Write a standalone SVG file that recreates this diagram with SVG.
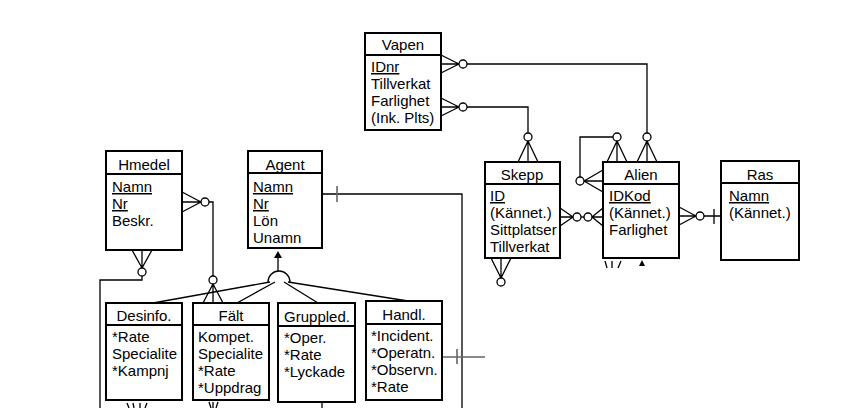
<svg xmlns="http://www.w3.org/2000/svg" width="845" height="408" viewBox="0 0 845 408">
<style>
text{font-family:"Liberation Sans",Arial,sans-serif;font-size:15px;fill:#000}
.h{text-anchor:middle}
.u{text-decoration:underline}
.box{fill:#fff;stroke:#000;stroke-width:2}
.sep{stroke:#000;stroke-width:2}
.c{fill:none;stroke:#000;stroke-width:1.3}
.g{fill:none;stroke:#666;stroke-width:1.6}
.o{fill:#fff;stroke:#000;stroke-width:1.3}
</style>
<rect width="845" height="408" fill="#fff"/>
<g id="connectors">
<!-- Vapen - Alien -->
<path class="c" d="M441,55 L459,64 M441,64 L459,64 M441,73 L459,64"/>
<circle class="o" cx="463" cy="64" r="4"/>
<path class="c" d="M467,64 H647 V133"/>
<circle class="o" cx="647" cy="137" r="4"/>
<path class="c" d="M647,141 L637,162 M647,141 L647,162 M647,141 L657,162"/>
<!-- Vapen - Skepp -->
<path class="c" d="M441,98 L459,107 M441,107 L459,107 M441,116 L459,107"/>
<circle class="o" cx="463" cy="107" r="4"/>
<path class="c" d="M467,107 H528 V133"/>
<circle class="o" cx="528" cy="137" r="4"/>
<path class="c" d="M528,141 L518,162 M528,141 L528,162 M528,141 L538,162"/>
<!-- Alien recursive -->
<circle class="o" cx="617" cy="137" r="4"/>
<path class="c" d="M617,141 L607,162 M617,141 L617,162 M617,141 L627,162"/>
<path class="c" d="M613,137 H580 V177"/>
<circle class="o" cx="580" cy="181" r="4"/>
<path class="c" d="M584,181 L603,170 M584,181 L603,181 M584,181 L603,192"/>
<!-- Skepp - Alien -->
<path class="c" d="M560,208 L573,217 M560,217 L573,217 M560,226 L573,217"/>
<circle class="o" cx="577" cy="217" r="4"/>
<path class="c" d="M581,217 H584"/>
<circle class="o" cx="588" cy="217" r="4"/>
<path class="c" d="M592,217 L603,208 M592,217 L603,217 M592,217 L603,226"/>
<!-- Alien - Ras -->
<path class="c" d="M679,207 L696,216 M679,216 L696,216 M679,225 L696,216"/>
<circle class="o" cx="700" cy="216" r="4"/>
<path class="c" d="M704,216 H721 M714,209 V224"/>
<!-- Skepp bottom -->
<path class="c" d="M491,258 L501,278 M501,258 L501,278 M511,258 L501,278"/>
<circle class="o" cx="501" cy="282" r="4"/>
<!-- Alien bottom marks -->
<path class="c" d="M605,261 L607,268 M612,261 L612,268 M621,261 L618,268"/>
<polygon points="642,260 639,266 645,266" fill="#000"/>
<!-- Hmedel - Falt -->
<path class="c" d="M182,192 L201,202 M182,202 L201,202 M182,212 L201,202"/>
<circle class="o" cx="205" cy="202" r="4"/>
<path class="c" d="M209,202 H213 V276"/>
<circle class="o" cx="213" cy="280" r="4"/>
<path class="c" d="M213,284 L203,303 M213,284 L213,303 M213,284 L223,303"/>
<!-- Hmedel bottom -->
<path class="c" d="M132,250 L142,268 M142,250 L142,268 M152,250 L142,268"/>
<circle class="o" cx="142" cy="272" r="4"/>
<path class="c" d="M142,276 V280 H100 V408"/>
<!-- Agent ISA -->
<polygon points="278,251 274,258 282,258" fill="#000"/>
<path class="c" d="M278,258 V271"/>
<path class="c" d="M268,282 A11,11 0 0 1 290,282"/>
<path class="c" d="M270,282 L153,303 M275,282 L237,303 M284,282 L318,303 M288,282 L408,301"/>
<!-- Agent right -->
<path class="c" d="M322,194 H462 V408"/>
<path class="g" d="M337,186 V202"/>
<!-- Handl right -->
<path class="g" d="M442,357 H485 M457,349 V364"/>
<!-- bottom marks -->
<path class="c" d="M127,403 L129,408 M133,403 L134,408 M140,403 L140,408 M147,403 L145,408"/>
<path class="c" d="M209,402 L211,408 M213,402 L213,408 M218,402 L216,408"/>
<path class="c" d="M322,403 V408"/>
</g>
<g id="Vapen">
<rect class="box" x="365" y="33" width="76" height="97"/>
<line class="sep" x1="365" y1="55" x2="441" y2="55"/>
<text class="h" x="403" y="50">Vapen</text>
<text class="u" x="371" y="72">IDnr</text>
<text x="371" y="89">Tillverkat</text>
<text x="371" y="106">Farlighet</text>
<text x="371" y="123">(Ink. Plts)</text>
</g>
<g id="Hmedel">
<rect class="box" x="106" y="151" width="76" height="99"/>
<line class="sep" x1="106" y1="174" x2="182" y2="174"/>
<text class="h" x="144" y="170">Hmedel</text>
<text class="u" x="112" y="192">Namn</text>
<text class="u" x="112" y="209">Nr</text>
<text x="112" y="226">Beskr.</text>
</g>
<g id="Agent">
<rect class="box" x="248" y="151" width="74" height="97"/>
<line class="sep" x1="248" y1="173" x2="322" y2="173"/>
<text class="h" x="285" y="170">Agent</text>
<text class="u" x="253" y="192">Namn</text>
<text class="u" x="253" y="209">Nr</text>
<text x="253" y="226">Lön</text>
<text x="253" y="243">Unamn</text>
</g>
<g id="Skepp">
<rect class="box" x="485" y="162" width="75" height="96"/>
<line class="sep" x1="485" y1="184" x2="560" y2="184"/>
<text class="h" x="522" y="180">Skepp</text>
<text class="u" x="490" y="201">ID</text>
<text x="490" y="218">(Kännet.)</text>
<text x="490" y="235">Sittplatser</text>
<text x="490" y="252">Tillverkat</text>
</g>
<g id="Alien">
<rect class="box" x="603" y="162" width="76" height="96"/>
<line class="sep" x1="603" y1="184" x2="679" y2="184"/>
<text class="h" x="641" y="180">Alien</text>
<text class="u" x="609" y="201">IDKod</text>
<text x="609" y="218">(Kännet.)</text>
<text x="609" y="235">Farlighet</text>
</g>
<g id="Ras">
<rect class="box" x="721" y="161" width="78" height="99"/>
<line class="sep" x1="721" y1="183" x2="799" y2="183"/>
<text class="h" x="760" y="180">Ras</text>
<text class="u" x="729" y="201">Namn</text>
<text x="729" y="218">(Kännet.)</text>
</g>
<g id="Desinfo">
<rect class="box" x="106" y="303" width="76" height="97"/>
<line class="sep" x1="106" y1="325" x2="182" y2="325"/>
<text class="h" x="144" y="321">Desinfo.</text>
<text x="112" y="342">*Rate</text>
<text x="112" y="359">Specialite</text>
<text x="112" y="376">*Kampnj</text>
</g>
<g id="Falt">
<rect class="box" x="193" y="303" width="76" height="97"/>
<line class="sep" x1="193" y1="325" x2="269" y2="325"/>
<text class="h" x="231" y="321">Fält</text>
<text x="198" y="342">Kompet.</text>
<text x="198" y="359">Specialite</text>
<text x="198" y="376">*Rate</text>
<text x="198" y="393">*Uppdrag</text>
</g>
<g id="Gruppled">
<rect class="box" x="278" y="303" width="77" height="99"/>
<line class="sep" x1="278" y1="326" x2="355" y2="326"/>
<text class="h" x="317" y="322">Gruppled.</text>
<text x="284" y="343">*Oper.</text>
<text x="284" y="360">*Rate</text>
<text x="284" y="377">*Lyckade</text>
</g>
<g id="Handl">
<rect class="box" x="366" y="301" width="76" height="99"/>
<line class="sep" x1="366" y1="324" x2="442" y2="324"/>
<text class="h" x="404" y="320">Handl.</text>
<text x="371" y="341">*Incident.</text>
<text x="371" y="358">*Operatn.</text>
<text x="371" y="375">*Observn.</text>
<text x="371" y="392">*Rate</text>
</g>
</svg>
